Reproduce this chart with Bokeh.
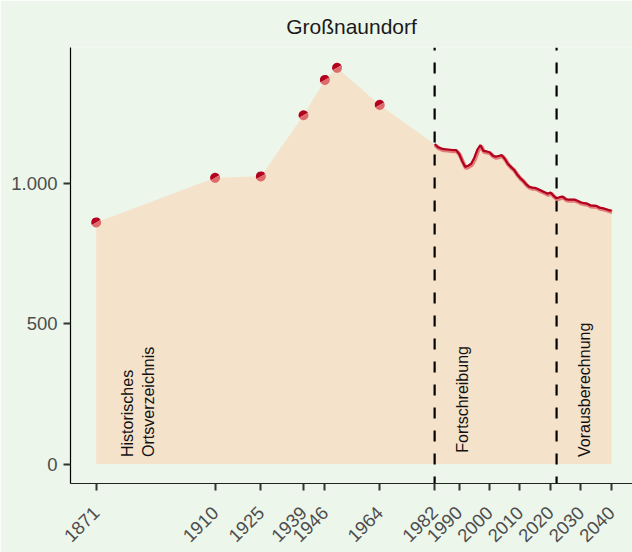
import numpy as np
from bokeh.plotting import figure
from bokeh.models import ColumnDataSource, FixedTicker, Range1d
from bokeh.transform import dodge
from bokeh.core.properties import value
from bokeh.embed import file_html
from bokeh.resources import INLINE

# ---------------- data ----------------
title_text = "Großnaundorf"

hist_years = [1871, 1910, 1925, 1939, 1946, 1950, 1964]
hist_pop = [861, 1020, 1025, 1243, 1369, 1412, 1280]

series_years = list(range(1982, 2041))
series_pop = [1140, 1130, 1125, 1122, 1121, 1120, 1119, 1119,
              1106, 1081, 1059, 1063, 1070, 1091, 1120, 1137, 1116, 1114,
              1111, 1100, 1095, 1098, 1101, 1088, 1070, 1059, 1049, 1033,
              1020, 1010, 997, 988, 985, 984, 979, 974, 969, 963,
              968, 956, 947, 951, 953, 944, 942, 942, 942, 937,
              932, 930, 928, 922, 921, 920, 914, 912, 909, 905,
              903]

x_ticks = [1871, 1910, 1925, 1939, 1946, 1964, 1982, 1990, 2000, 2010, 2020, 2030, 2040]
x_tick_labels = [str(t) for t in x_ticks]
y_ticks = [0, 500, 1000]
y_tick_labels = ["0", "500", "1.000"]

breaks = [1982, 2022]
section_labels = ["Historisches", "Ortsverzeichnis", "Fortschreibung", "Vorausberechnung"]
section_x = [1881.3, 1888.3, 1991.3, 2031.3]
section_y = [25, 25, 40, 25]

# ---------------- style ----------------
BG = "#ECF6EB"
AREA = "#F5E2CB"
DARK = "#B2001E"
LIGHT = "#DE6A6A"
FONT = "Liberation Sans"

x_lo, x_hi = 1862.57, 2046.9
y_lo, y_hi = -69.5, 1484.5

p = figure(width=632, height=552, output_backend="svg", toolbar_location=None,
           x_range=Range1d(x_lo, x_hi), y_range=Range1d(y_lo, y_hi),
           min_border_left=70, min_border_right=0, min_border_top=47, min_border_bottom=69)
p.background_fill_color = BG
p.border_fill_color = BG
p.outline_line_color = None
p.grid.grid_line_color = None

# title
p.title.text = title_text
p.title.align = "center"
p.title.text_font = FONT
p.title.text_font_size = "21px"
p.title.text_font_style = "normal"
p.title.text_color = "#1A1A1A"
p.title.standoff = 19
p.title.offset = 2

# area
all_years = hist_years + series_years
all_pop = hist_pop + series_pop
area_src = ColumnDataSource(dict(x=all_years, y=all_pop))
p.varea(x="x", y1=0, y2="y", source=area_src, fill_color=AREA)

# dashed break lines
p.segment(x0=breaks, y0=[y_hi] * len(breaks), x1=breaks, y1=[y_lo] * len(breaks),
          line_color="black", line_width=2.2, line_dash="11 12", line_dash_offset=8)

# series line (halo + line)
line_src = ColumnDataSource(dict(x=series_years, y=series_pop))
p.line(x=dodge("x", 0.25, range=p.x_range), y=dodge("y", -4, range=p.y_range),
       source=line_src, line_color=LIGHT, line_width=4, line_alpha=0.85)
p.line(x="x", y="y", source=line_src, line_color=DARK, line_width=2.2)

# historic points: two-tone
pt_src = ColumnDataSource(dict(x=hist_years, y=hist_pop))
p.wedge(x="x", y="y", radius=5, radius_units="screen", start_angle=np.radians(30),
        end_angle=np.radians(210), source=pt_src, fill_color=DARK, line_color=None)
p.wedge(x="x", y="y", radius=5, radius_units="screen", start_angle=np.radians(210),
        end_angle=np.radians(30), source=pt_src, fill_color=LIGHT, line_color=None)

# section annotations
sec_src = ColumnDataSource(dict(x=section_x, y=section_y, t=section_labels))
p.text(x="x", y="y", text="t", source=sec_src, angle=np.pi / 2,
       text_align="left", text_baseline="middle",
       text_font=value(FONT), text_font_size="16px", text_color="#111111")

# axes
p.yaxis.ticker = FixedTicker(ticks=y_ticks)
p.yaxis.major_label_overrides = dict(zip(y_ticks, y_tick_labels))
p.yaxis.minor_tick_line_color = None
p.yaxis.axis_line_color = "black"
p.yaxis.axis_line_width = 1.2
p.yaxis.major_tick_in = 0
p.yaxis.major_tick_out = 7
p.yaxis.major_tick_line_width = 2
p.yaxis.major_tick_line_color = "#333333"
p.yaxis.major_label_standoff = 6
p.yaxis.major_label_text_font = FONT
p.yaxis.major_label_text_font_size = "18.5px"
p.yaxis.major_label_text_color = "#4D4D4D"

p.xaxis.ticker = FixedTicker(ticks=x_ticks)
p.xaxis.major_label_overrides = dict(zip(x_ticks, x_tick_labels))
p.xaxis.major_label_orientation = np.pi / 4
p.xaxis.major_label_text_font = FONT
p.xaxis.major_label_text_font_size = "18.5px"
p.xaxis.major_label_text_color = "#4D4D4D"
p.xaxis.major_label_standoff = 19
p.xaxis.minor_tick_line_color = None
p.xaxis.axis_line_color = "#222222"
p.xaxis.axis_line_width = 1.2
p.xaxis.major_tick_in = 0
p.xaxis.major_tick_out = 7
p.xaxis.major_tick_line_width = 2
p.xaxis.major_tick_line_color = "#333333"

open("out.html", "w").write(file_html(p, INLINE))
